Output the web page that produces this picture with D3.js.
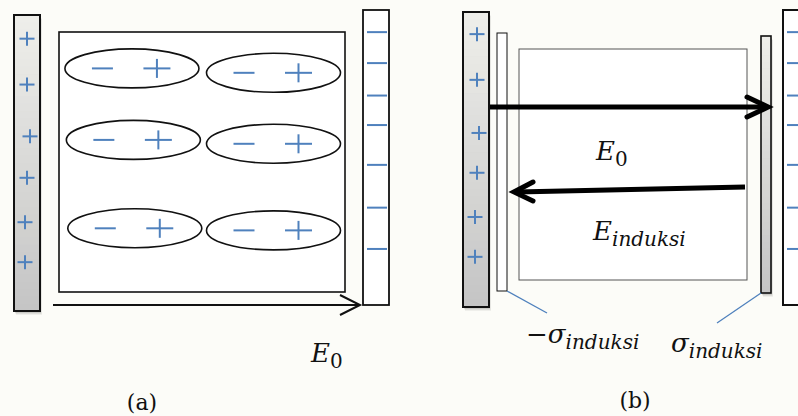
<!DOCTYPE html>
<html>
<head>
<meta charset="utf-8">
<script src="https://cdn.jsdelivr.net/npm/d3@7"></script>
<style>
  body { margin: 0; background: #fcfcf8; }
  svg { display: block; }
</style>
</head>
<body>
<div id="diagram"></div>
<script>
// charge positions along a plate, as a fraction of plate height
const plusPosA = [0.08, 0.235, 0.41, 0.55, 0.70, 0.835];
const plusOffA = [0, 0, 3, 0, -2, -2];
const plusPosB = [0.075, 0.23, 0.41, 0.545, 0.695, 0.83];
const plusOffB = [0, 0, 2, 0, -2, -2];
const minusPos = [0.075, 0.18, 0.29, 0.39, 0.525, 0.67, 0.81];

// dipoles in the dielectric: column, row (fractions of box)
const dipoleCol = [0.255, 0.75, 0.26, 0.75, 0.265, 0.75];
const dipoleRow = [0.14, 0.157, 0.415, 0.43, 0.755, 0.763];

const labelsA = { field: "E", fieldSub: "0", caption: "(a)" };
const labelsB = { e0: "E", e0Sub: "0", eInd: "E", eIndSub: "induksi",
                  sigNeg: "\u2212\u03c3", sigPos: "\u03c3", sigSub: "induksi", caption: "(b)" };

const W = 798, H = 416;
const blue = "#4f81bd";
const serif = "'DejaVu Serif', 'Liberation Serif', serif";
const plateShade = d3.interpolateRgb("#eeeeea", "#c4c4c4");

const svg = d3.select("#diagram").append("svg")
    .attr("width", W)
    .attr("height", H);

svg.append("rect").attr("width", W).attr("height", H).attr("fill", "#fcfcf8");

function plate(x0, x1, y0, y1, shaded, sw, useShadow) {
  const w = x1 - x0, h = y1 - y0;
  if (useShadow) {
    [[4, 0.05], [3, 0.07], [2, 0.09]].forEach(([o, a]) => {
      svg.append("rect")
          .attr("x", x0 + o / 2).attr("y", y0 + o)
          .attr("width", w).attr("height", h)
          .attr("fill", "#000").attr("opacity", a);
    });
  }
  const ys = d3.scaleLinear().domain([0, 1]).range([y0, y1]);
  if (shaded) {
    const bands = d3.range(0, 1, 1 / 40);
    svg.append("g").selectAll("rect")
        .data(bands)
        .join("rect")
        .attr("x", x0).attr("width", w)
        .attr("y", d => ys(d)).attr("height", h / 40 + 0.6)
        .attr("fill", d => plateShade(d));
  }
  svg.append("rect")
      .attr("x", x0).attr("y", y0)
      .attr("width", w).attr("height", h)
      .attr("fill", shaded ? "none" : "#fff")
      .attr("stroke", "#111")
      .attr("stroke-width", sw);
  return ys;
}

function plus(g, cx, cy, w, h) {
  g.append("line").attr("x1", cx - w / 2).attr("x2", cx + w / 2)
      .attr("y1", cy).attr("y2", cy);
  g.append("line").attr("x1", cx).attr("x2", cx)
      .attr("y1", cy - h / 2).attr("y2", cy + h / 2);
}

function chargeGroup() {
  return svg.append("g").attr("stroke", blue).attr("stroke-width", 2).attr("fill", "none");
}

function subText(x, y, main, sub, size, subSize) {
  const t = svg.append("text")
      .attr("x", x).attr("y", y)
      .attr("font-family", serif)
      .attr("font-style", "italic")
      .attr("font-size", size)
      .attr("fill", "#111");
  t.append("tspan").text(main);
  t.append("tspan").attr("dy", size * 0.22).attr("font-size", subSize)
      .attr("font-style", sub === "0" ? "normal" : "italic").text(sub);
  return t;
}

// ---------- panel (a) ----------
const yLeftA = plate(14, 40, 15, 311, true, 2, true);
const gPlusA = chargeGroup();
plusPosA.forEach((p, i) => plus(gPlusA, 27 + plusOffA[i], yLeftA(p), 15, 14));

// dielectric box
const boxA = { x0: 59, x1: 345, y0: 32, y1: 292 };
svg.append("rect")
    .attr("x", boxA.x0).attr("y", boxA.y0)
    .attr("width", boxA.x1 - boxA.x0).attr("height", boxA.y1 - boxA.y0)
    .attr("fill", "#fff").attr("stroke", "#111").attr("stroke-width", 1.6);

const bx = d3.scaleLinear().domain([0, 1]).range([boxA.x0, boxA.x1]);
const by = d3.scaleLinear().domain([0, 1]).range([boxA.y0, boxA.y1]);
const dipoles = dipoleCol.map((c, i) => ({ cx: bx(c), cy: by(dipoleRow[i]) }));

svg.append("g").selectAll("ellipse")
    .data(dipoles)
    .join("ellipse")
    .attr("cx", d => d.cx).attr("cy", d => d.cy)
    .attr("rx", 67).attr("ry", 19.5)
    .attr("fill", "none").attr("stroke", "#111").attr("stroke-width", 1.6);

const gDip = chargeGroup();
dipoles.forEach(d => {
  gDip.append("line").attr("x1", d.cx - 40).attr("x2", d.cx - 19)
      .attr("y1", d.cy).attr("y2", d.cy);
  plus(gDip, d.cx + 25, d.cy, 27, 19);
});

// field arrow E0
svg.append("line").attr("x1", 53).attr("x2", 359).attr("y1", 305).attr("y2", 305)
    .attr("stroke", "#111").attr("stroke-width", 2);
svg.append("path").attr("d", "M340,295 L360,305 L340,315")
    .attr("fill", "none").attr("stroke", "#111").attr("stroke-width", 2);

// right plate
const yRightA = plate(363, 389, 10, 305, false, 1.8, false);
const gMinA = chargeGroup();
minusPos.forEach(p => gMinA.append("line")
    .attr("x1", 367).attr("x2", 387).attr("y1", yRightA(p)).attr("y2", yRightA(p)));

subText(311, 362, labelsA.field, labelsA.fieldSub, 26, 20);
svg.append("text").attr("x", 142).attr("y", 410).attr("text-anchor", "middle")
    .attr("font-family", serif).attr("font-size", 22).attr("fill", "#111")
    .text(labelsA.caption);

// ---------- panel (b) ----------
const yLeftB = plate(463, 489, 12, 307, true, 2, true);
const gPlusB = chargeGroup();
plusPosB.forEach((p, i) => plus(gPlusB, 477 + plusOffB[i], yLeftB(p), 15, 14));

// induced negative layer
svg.append("rect").attr("x", 497).attr("y", 33).attr("width", 10).attr("height", 258)
    .attr("fill", "#fff").attr("stroke", "#111").attr("stroke-width", 1);

// dielectric box
svg.append("rect").attr("x", 519).attr("y", 49).attr("width", 228).attr("height", 231)
    .attr("fill", "#fff").attr("stroke", "#555").attr("stroke-width", 1);

// induced positive layer
plate(761, 771, 36, 293, true, 1.6, true);

// far right plate (cut by the edge)
const yRightB = plate(783, 810, 10, 305, false, 2, false);
const gMinB = chargeGroup();
minusPos.forEach(p => gMinB.append("line")
    .attr("x1", 787).attr("x2", 800).attr("y1", yRightB(p)).attr("y2", yRightB(p)));

// E0 arrow
svg.append("line").attr("x1", 490).attr("x2", 765).attr("y1", 107).attr("y2", 107)
    .attr("stroke", "#000").attr("stroke-width", 5);
svg.append("path").attr("d", "M747,97 L768,107 L747,117")
    .attr("fill", "none").attr("stroke", "#000").attr("stroke-width", 5)
    .attr("stroke-linecap", "round").attr("stroke-linejoin", "miter");

// E induksi arrow
svg.append("line").attr("x1", 745).attr("x2", 517).attr("y1", 187).attr("y2", 192)
    .attr("stroke", "#000").attr("stroke-width", 5);
svg.append("path").attr("d", "M533,182 L514,192 L533,201")
    .attr("fill", "none").attr("stroke", "#000").attr("stroke-width", 5)
    .attr("stroke-linecap", "round");

subText(596, 160, labelsB.e0, labelsB.e0Sub, 26, 20);
subText(593, 240, labelsB.eInd, labelsB.eIndSub, 26, 20);

// leader lines
svg.append("line").attr("x1", 507).attr("y1", 291).attr("x2", 547).attr("y2", 313)
    .attr("stroke", blue).attr("stroke-width", 1.3);
svg.append("line").attr("x1", 761).attr("y1", 293).attr("x2", 717).attr("y2", 323)
    .attr("stroke", blue).attr("stroke-width", 1.3);

subText(526, 343, labelsB.sigNeg, labelsB.sigSub, 26, 20);
subText(671, 352, labelsB.sigPos, labelsB.sigSub, 26, 20);

svg.append("text").attr("x", 635).attr("y", 408).attr("text-anchor", "middle")
    .attr("font-family", serif).attr("font-size", 22).attr("fill", "#111")
    .text(labelsB.caption);
</script>
</body>
</html>
